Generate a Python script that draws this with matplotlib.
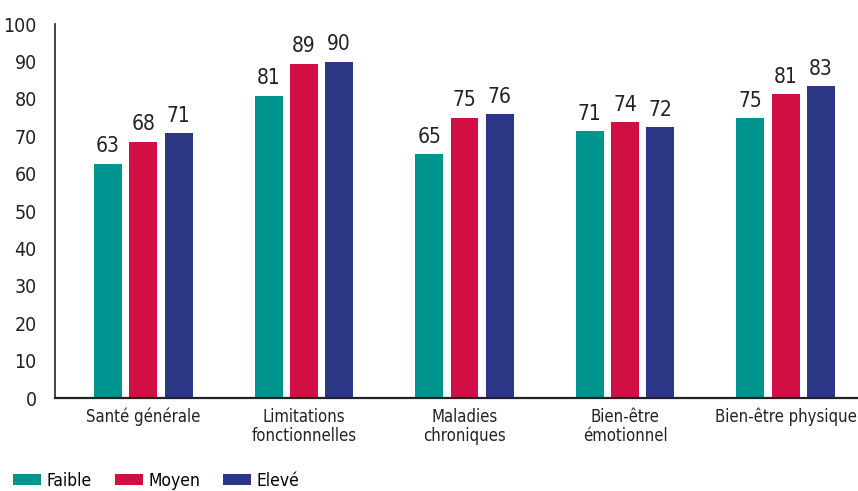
import matplotlib.pyplot as plt
import numpy as np

categories = ['Santé générale', 'Limitations\nfonctionnelles', 'Maladies\nchroniques',
              'Bien-être\némotionnel', 'Bien-être physique']
faible = [62.7, 80.9, 65.2, 71.4, 74.8]
moyen = [68.5, 89.4, 74.9, 73.8, 81.2]
eleve = [70.8, 89.9, 75.9, 72.4, 83.4]
series_names = ['Faible', 'Moyen', 'Elevé']
colors = ['#009490', '#D20F44', '#2B3784']

plt.rcParams['font.family'] = ['DejaVu Sans']
plt.rcParams['font.stretch'] = 'condensed'

fig = plt.figure(figsize=(8.58, 4.91), dpi=100)
ax = fig.add_axes([0.064, 0.189, 0.936, 0.762])

x = np.arange(len(categories))
width = 0.174
step = 0.22
for i, (vals, name, c) in enumerate(zip([faible, moyen, eleve], series_names, colors)):
    pos = x + (i - 1) * step
    ax.bar(pos, vals, width, color=c, label=name)
    for p, v in zip(pos, vals):
        ax.text(p, v + 2, str(round(v)), ha='center', va='bottom', fontsize=15, color='#222222')

ax.set_xlim(-0.55, 4.45)
ax.set_ylim(0, 100)
ax.set_yticks(range(0, 101, 10))
ax.set_xticks(x)
ax.set_xticklabels(categories, fontsize=12, color='#222222', linespacing=1.1)
ax.tick_params(axis='both', length=0)
ax.tick_params(axis='y', labelsize=14, labelcolor='#222222', pad=13)
ax.tick_params(axis='x', pad=7)
for s in ['top', 'right']:
    ax.spines[s].set_visible(False)
ax.spines['left'].set_color('#222222')
ax.spines['bottom'].set_color('#222222')
ax.spines['left'].set_linewidth(1.2)
ax.spines['bottom'].set_linewidth(1.6)

fig.legend(loc='lower left', bbox_to_anchor=(-0.003, -0.03), ncol=3, frameon=False,
           fontsize=12.5, handlelength=1.6, handleheight=0.6, columnspacing=1.3, handletextpad=0.35)

fig.savefig('out.png', dpi=100)
